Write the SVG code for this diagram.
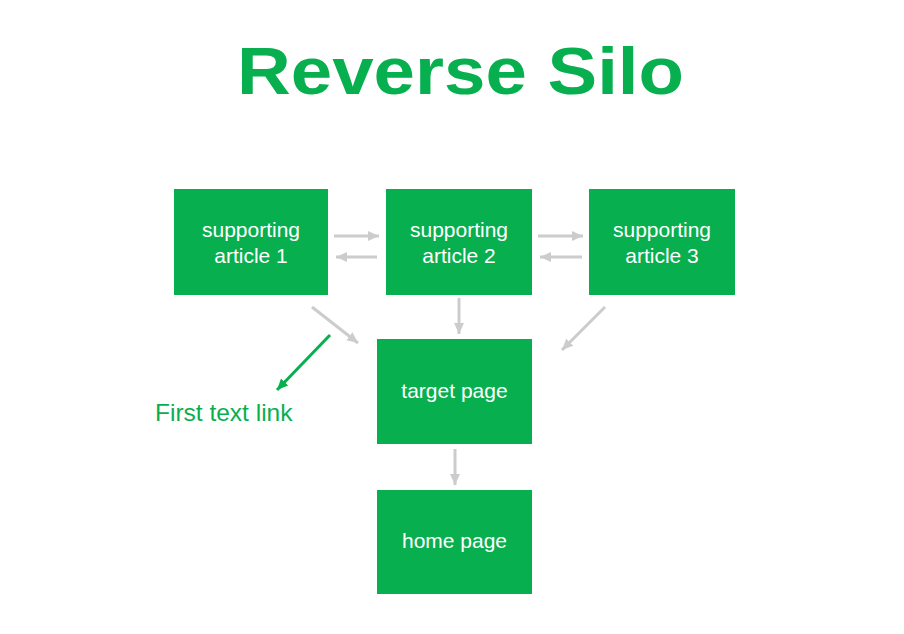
<svg xmlns="http://www.w3.org/2000/svg" width="904" height="634" viewBox="0 0 904 634">
<style>
.box{fill:#08AF4F}
.bt{fill:#fff;font-family:"Liberation Sans",Arial,sans-serif;font-size:21px;text-anchor:middle}
.c{stroke:#cccccc;stroke-width:3;fill:none;marker-end:url(#ag)}
.cg{stroke:#08AF4F;stroke-width:3;fill:none;marker-end:url(#agg)}
</style>
<defs>
<marker id="ag" markerUnits="userSpaceOnUse" markerWidth="12" markerHeight="12" refX="11" refY="6" orient="auto" viewBox="0 0 12 12"><path d="M0,1 L11,6 L0,11 z" fill="#cccccc"/></marker>
<marker id="agg" markerUnits="userSpaceOnUse" markerWidth="12" markerHeight="12" refX="11" refY="6" orient="auto" viewBox="0 0 12 12"><path d="M0,1 L11,6 L0,11 z" fill="#08AF4F"/></marker>
</defs>
<rect width="904" height="634" fill="#fff"/>
<text x="237" y="94" font-family="'Liberation Sans',Arial,sans-serif" font-weight="bold" font-size="66" textLength="447" lengthAdjust="spacingAndGlyphs" fill="#08AF4F">Reverse Silo</text>
<g id="connectors">
<line class="c" x1="334" y1="236" x2="379" y2="236"/>
<line class="c" x1="377" y1="257" x2="336" y2="257"/>
<line class="c" x1="538" y1="236" x2="583" y2="236"/>
<line class="c" x1="582" y1="257" x2="540" y2="257"/>
<line class="c" x1="312" y1="307" x2="358" y2="343"/>
<line class="c" x1="459" y1="298" x2="459" y2="334"/>
<line class="c" x1="605" y1="307" x2="562" y2="350"/>
<line class="c" x1="455" y1="449" x2="455" y2="485"/>
<line class="cg" x1="330" y1="335" x2="277" y2="390"/>
</g>
<g id="sa1"><rect class="box" x="174" y="189" width="154" height="106"/><text class="bt" x="251" y="237">supporting</text><text class="bt" x="251" y="263">article 1</text></g>
<g id="sa2"><rect class="box" x="386" y="189" width="146" height="106"/><text class="bt" x="459" y="237">supporting</text><text class="bt" x="459" y="263">article 2</text></g>
<g id="sa3"><rect class="box" x="589" y="189" width="146" height="106"/><text class="bt" x="662" y="237">supporting</text><text class="bt" x="662" y="263">article 3</text></g>
<g id="target"><rect class="box" x="377" y="339" width="155" height="105"/><text class="bt" x="454.5" y="398">target page</text></g>
<g id="home"><rect class="box" x="377" y="490" width="155" height="104"/><text class="bt" x="454.5" y="548">home page</text></g>
<g id="label"><text x="155" y="421" font-family="'Liberation Sans',Arial,sans-serif" font-size="24.5" fill="#08AF4F">First text link</text></g>
</svg>
